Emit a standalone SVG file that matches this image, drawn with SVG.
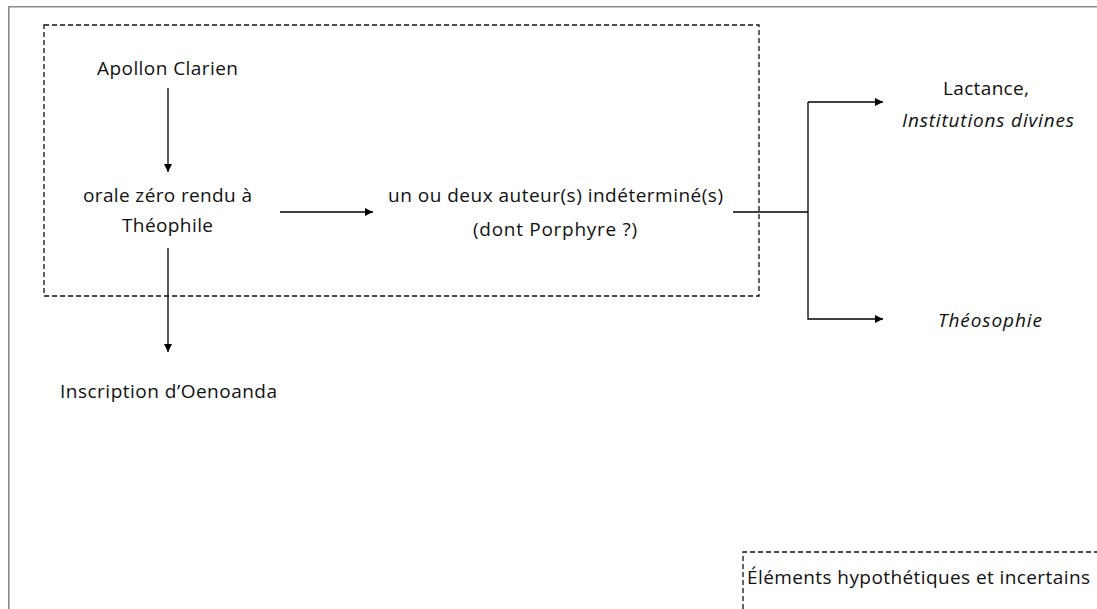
<svg xmlns="http://www.w3.org/2000/svg" width="1097" height="609" viewBox="0 0 1097 609">
<defs>
<style>
.t{font-family:"Open Sans","Noto Sans","DejaVu Sans",sans-serif;font-size:19px;fill:#111;}
.i{font-style:italic;}
.c{stroke:#000;stroke-width:1.3;fill:none;}
.d{stroke:#111;stroke-width:1.3;fill:none;stroke-dasharray:5 3;}
</style>
<marker id="ah" viewBox="0 0 10 10" refX="10" refY="5" markerWidth="8" markerHeight="8" markerUnits="userSpaceOnUse" orient="auto">
<path d="M0,0 L10,5 L0,10 Z" fill="#000"/>
</marker>
</defs>
<rect x="0" y="0" width="1097" height="609" fill="#fff"/>
<path d="M8.8 609 V6.7 H1097" stroke="#8a8a8a" stroke-width="1.6" fill="none"/>
<g id="hypothetical-box">
<rect class="d" x="44" y="25" width="715" height="271"/>
</g>
<g id="legend">
<path class="d" d="M743 609 V552 H1097"/>
<text class="t" x="747" y="584" textLength="343" lengthAdjust="spacing">Éléments hypothétiques et incertains</text>
</g>
<g id="apollon">
<text class="t" x="97" y="75" textLength="141" lengthAdjust="spacing">Apollon Clarien</text>
</g>
<g id="orale">
<text class="t" x="83" y="202" textLength="169" lengthAdjust="spacing">orale zéro rendu à</text>
<text class="t" x="122" y="232" textLength="91" lengthAdjust="spacing">Théophile</text>
</g>
<g id="inscription">
<text class="t" x="60" y="398" textLength="217" lengthAdjust="spacing">Inscription d’Oenoanda</text>
</g>
<g id="auteurs">
<text class="t" x="388" y="202" textLength="335" lengthAdjust="spacing">un ou deux auteur(s) indéterminé(s)</text>
<text class="t" x="473" y="236" textLength="164" lengthAdjust="spacing">(dont Porphyre ?)</text>
</g>
<g id="lactance">
<text class="t" x="943" y="95" textLength="86" lengthAdjust="spacing">Lactance,</text>
<text class="t i" x="902" y="127" textLength="172" lengthAdjust="spacing">Institutions divines</text>
</g>
<g id="theosophie">
<text class="t i" x="938" y="327" textLength="104" lengthAdjust="spacing">Théosophie</text>
</g>
<g id="connectors">
<line class="c" x1="168" y1="88" x2="168" y2="172" marker-end="url(#ah)"/>
<line class="c" x1="280" y1="212" x2="373" y2="212" marker-end="url(#ah)"/>
<line class="c" x1="168" y1="248" x2="168" y2="352" marker-end="url(#ah)"/>
<polyline class="c" points="733,212 808,212"/>
<polyline class="c" points="808,102 808,319 883,319" marker-end="url(#ah)"/>
<line class="c" x1="808" y1="102" x2="883" y2="102" marker-end="url(#ah)"/>
</g>
</svg>
